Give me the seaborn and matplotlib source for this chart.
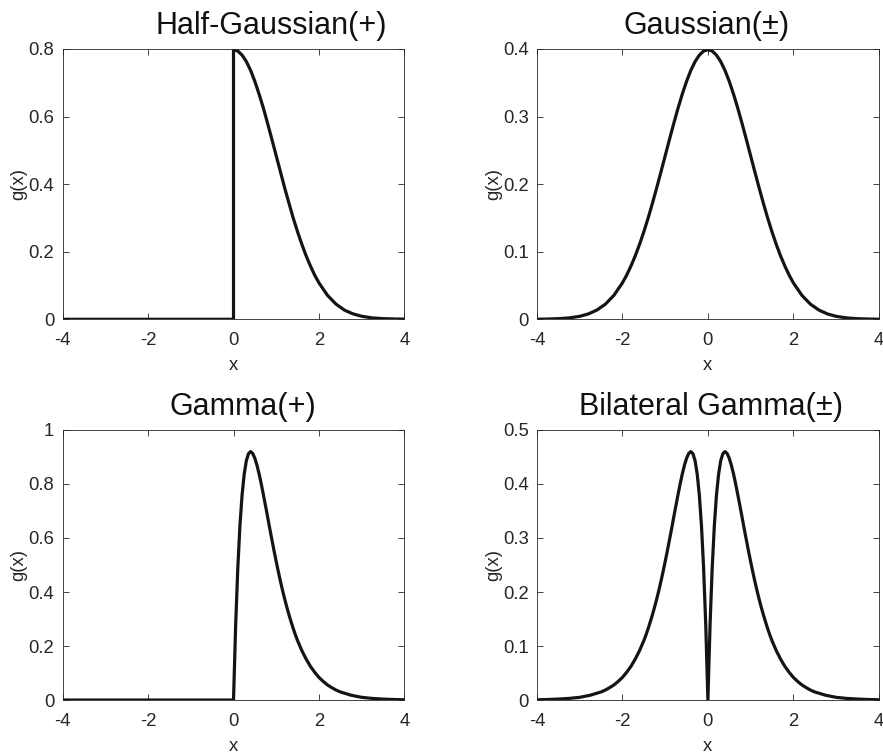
import numpy as np
import pandas as pd
import matplotlib
matplotlib.use("Agg")
import matplotlib.pyplot as plt
import seaborn as sns

# ---------------- data ----------------
halfgauss_x = [-4, 0, 0, 0.1, 0.2, 0.3, 0.4, 0.5, 0.6, 0.7, 0.8, 0.9, 1.0, 1.1, 1.2, 1.3,
               1.4, 1.5, 1.6, 1.7, 1.8, 1.9, 2.0, 2.2, 2.4, 2.6, 2.8, 3.0, 3.25, 3.5, 3.75, 4.0]
halfgauss_y = [0, 0, 0.798, 0.794, 0.782, 0.763, 0.737, 0.704, 0.666, 0.625, 0.579, 0.532,
               0.484, 0.436, 0.388, 0.343, 0.299, 0.259, 0.222, 0.188, 0.158, 0.131, 0.108,
               0.071, 0.045, 0.027, 0.016, 0.009, 0.004, 0.002, 0.001, 0.0003]

gauss_x = [-4.0, -3.75, -3.5, -3.25, -3.0, -2.8, -2.6, -2.4, -2.2, -2.0, -1.9, -1.8, -1.7,
           -1.6, -1.5, -1.4, -1.3, -1.2, -1.1, -1.0, -0.9, -0.8, -0.7, -0.6, -0.5, -0.4,
           -0.3, -0.2, -0.1, 0.0, 0.1, 0.2, 0.3, 0.4, 0.5, 0.6, 0.7, 0.8, 0.9, 1.0, 1.1,
           1.2, 1.3, 1.4, 1.5, 1.6, 1.7, 1.8, 1.9, 2.0, 2.2, 2.4, 2.6, 2.8, 3.0, 3.25,
           3.5, 3.75, 4.0]
gauss_y = [0.0001, 0.0004, 0.0009, 0.0020, 0.0044, 0.0079, 0.0136, 0.0224, 0.0355, 0.0540,
           0.0656, 0.0790, 0.0940, 0.1109, 0.1295, 0.1497, 0.1714, 0.1942, 0.2179, 0.2420,
           0.2661, 0.2897, 0.3123, 0.3332, 0.3521, 0.3683, 0.3814, 0.3910, 0.3970, 0.3989,
           0.3970, 0.3910, 0.3814, 0.3683, 0.3521, 0.3332, 0.3123, 0.2897, 0.2661, 0.2420,
           0.2179, 0.1942, 0.1714, 0.1497, 0.1295, 0.1109, 0.0940, 0.0790, 0.0656, 0.0540,
           0.0355, 0.0224, 0.0136, 0.0079, 0.0044, 0.0020, 0.0009, 0.0004, 0.0001]

gamma_x = [-4, 0.0, 0.05, 0.10, 0.15, 0.20, 0.25, 0.30, 0.35, 0.40, 0.45, 0.50, 0.55, 0.60,
           0.65, 0.70, 0.75, 0.80, 0.85, 0.90, 0.95, 1.00, 1.05, 1.10, 1.15, 1.20, 1.25,
           1.30, 1.35, 1.40, 1.45, 1.50, 1.6, 1.7, 1.8, 1.9, 2.0, 2.1, 2.2, 2.3, 2.4, 2.5,
           2.75, 3.0, 3.25, 3.5, 3.75, 4.0]
gamma_y = [0, 0, 0.276, 0.487, 0.644, 0.758, 0.836, 0.886, 0.912, 0.920, 0.913, 0.895,
           0.869, 0.837, 0.800, 0.760, 0.719, 0.677, 0.634, 0.593, 0.552, 0.513, 0.475,
           0.439, 0.405, 0.373, 0.343, 0.315, 0.289, 0.264, 0.241, 0.220, 0.183, 0.152,
           0.125, 0.103, 0.084, 0.069, 0.056, 0.046, 0.037, 0.030, 0.018, 0.010, 0.006,
           0.0035, 0.002, 0.001]

bilat_x = [-4.0, -3.75, -3.5, -3.25, -3.0, -2.75, -2.5, -2.4, -2.3, -2.2, -2.1, -2.0,
           -1.9, -1.8, -1.7, -1.6, -1.50, -1.45, -1.40, -1.35, -1.30, -1.25, -1.20, -1.15,
           -1.10, -1.05, -1.00, -0.95, -0.90, -0.85, -0.80, -0.75, -0.70, -0.65, -0.60,
           -0.55, -0.50, -0.45, -0.40, -0.35, -0.30, -0.25, -0.20, -0.15, -0.10, -0.05,
           0.0,
           0.05, 0.10, 0.15, 0.20, 0.25, 0.30, 0.35, 0.40, 0.45, 0.50, 0.55, 0.60, 0.65,
           0.70, 0.75, 0.80, 0.85, 0.90, 0.95, 1.00, 1.05, 1.10, 1.15, 1.20, 1.25, 1.30,
           1.35, 1.40, 1.45, 1.50, 1.6, 1.7, 1.8, 1.9, 2.0, 2.1, 2.2, 2.3, 2.4, 2.5, 2.75,
           3.0, 3.25, 3.5, 3.75, 4.0]
bilat_y = [0.0005, 0.001, 0.0018, 0.003, 0.005, 0.009, 0.015, 0.0185, 0.023, 0.028, 0.0345,
           0.042, 0.0515, 0.0625, 0.076, 0.0915, 0.110, 0.1205, 0.132, 0.1445, 0.1575,
           0.1715, 0.1865, 0.2025, 0.2195, 0.2375, 0.2565, 0.276, 0.2965, 0.317, 0.3385,
           0.3595, 0.380, 0.400, 0.4185, 0.4345, 0.4475, 0.4565, 0.460, 0.456, 0.443,
           0.418, 0.379, 0.322, 0.2435, 0.138,
           0.0,
           0.138, 0.2435, 0.322, 0.379, 0.418, 0.443, 0.456, 0.460, 0.4565, 0.4475, 0.4345,
           0.4185, 0.400, 0.380, 0.3595, 0.3385, 0.317, 0.2965, 0.276, 0.2565, 0.2375,
           0.2195, 0.2025, 0.1865, 0.1715, 0.1575, 0.1445, 0.132, 0.1205, 0.110, 0.0915,
           0.076, 0.0625, 0.0515, 0.042, 0.0345, 0.028, 0.023, 0.0185, 0.015, 0.009, 0.005,
           0.003, 0.0018, 0.001, 0.0005]

titles = ["Half-Gaussian(+)", "Gaussian(\u00b1)", "Gamma(+)", "Bilateral Gamma(\u00b1)"]
x_ticks = [-4, -2, 0, 2, 4]
x_ticklabels = ["-4", "-2", "0", "2", "4"]
y_ticks_list = [[0, 0.2, 0.4, 0.6, 0.8],
                [0, 0.1, 0.2, 0.3, 0.4],
                [0, 0.2, 0.4, 0.6, 0.8, 1.0],
                [0, 0.1, 0.2, 0.3, 0.4, 0.5]]
y_ticklabels_list = [["0", "0.2", "0.4", "0.6", "0.8"],
                     ["0", "0.1", "0.2", "0.3", "0.4"],
                     ["0", "0.2", "0.4", "0.6", "0.8", "1"],
                     ["0", "0.1", "0.2", "0.3", "0.4", "0.5"]]

series = [(halfgauss_x, halfgauss_y), (gauss_x, gauss_y),
          (gamma_x, gamma_y), (bilat_x, bilat_y)]

# ---------------- style ----------------
sns.set_theme(style="ticks")
plt.rcParams["font.family"] = ["Liberation Sans", "DejaVu Sans"]
plt.rcParams["axes.unicode_minus"] = False

axis_col = "#262626"
line_col = "#141414"

fig = plt.figure(figsize=(8.83, 7.55), dpi=100)
positions = [
    [0.0710, 0.5771, 0.3869, 0.3580],
    [0.6082, 0.5771, 0.3870, 0.3580],
    [0.0710, 0.0728, 0.3869, 0.3577],
    [0.6082, 0.0728, 0.3870, 0.3577],
]
title_x = [0.61, 0.495, 0.528, 0.509]

for i, (pos, (xs, ys)) in enumerate(zip(positions, series)):
    ax = fig.add_axes(pos)
    df = pd.DataFrame({"x": xs, "y": ys})
    sns.lineplot(data=df, x="x", y="y", ax=ax, sort=False, estimator=None,
                 color=line_col, linewidth=2.3)
    ax.set_xlim(-4, 4)
    yt = y_ticks_list[i]
    ax.set_ylim(yt[0], yt[-1])
    ax.set_xticks(x_ticks)
    ax.set_xticklabels(x_ticklabels)
    ax.set_yticks(yt)
    ax.set_yticklabels(y_ticklabels_list[i])
    ax.tick_params(axis="both", direction="in", length=4, width=0.6,
                   colors=axis_col, labelsize=13.3, top=True, right=True)
    ax.tick_params(axis="x", pad=9)
    ax.tick_params(axis="y", pad=6)
    for sp in ax.spines.values():
        sp.set_visible(True)
        sp.set_color(axis_col)
        sp.set_linewidth(0.6)
    ax.set_xlabel("x", fontsize=13.3, color=axis_col)
    ax.set_ylabel("g(x)", fontsize=13.3, color=axis_col)
    ax.xaxis.set_label_coords(0.5, -0.14)
    ax.yaxis.set_label_coords(-0.103, 0.5)
    ax.set_title(titles[i], fontsize=22, color="#111111", pad=10.8, x=title_x[i])

fig.savefig("out.png", dpi=100)
